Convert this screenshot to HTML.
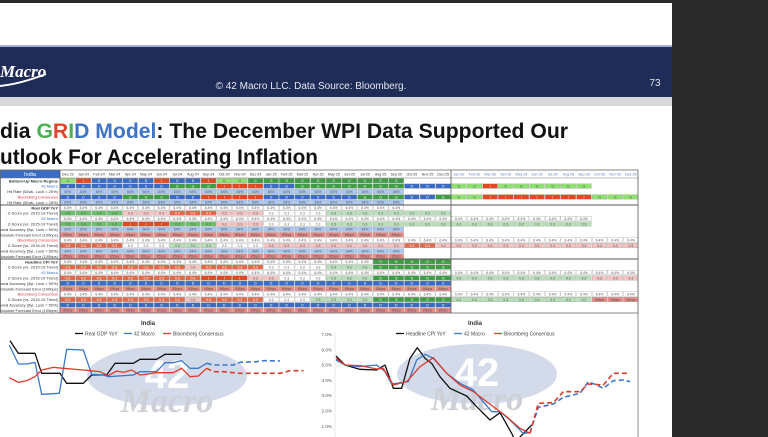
<!DOCTYPE html>
<html><head><meta charset="utf-8"><style>
html,body{margin:0;padding:0;background:#2b2b2b;width:768px;height:437px;overflow:hidden}
svg{display:block}
</style></head><body>
<svg id="s" width="768" height="437" xmlns="http://www.w3.org/2000/svg" font-family="Liberation Sans, sans-serif">
<rect x="0" y="0" width="768" height="437" fill="#2a2a2a"/>
<rect x="0" y="3" width="672" height="43" fill="#ffffff"/>
<rect x="0" y="45" width="672" height="2" fill="#9fb4d8"/>
<rect x="0" y="47" width="672" height="50" fill="#1f2c58"/>
<rect x="0" y="97" width="672" height="9" fill="#d8d8d8"/>
<rect x="0" y="106" width="672" height="331" fill="#ffffff"/>
<text x="0" y="77" fill="#fff" font-size="17" font-style="italic" font-family="Liberation Serif, serif" font-weight="bold">Macro</text>
<path d="M0 86 Q20 84 46 74" stroke="#fff" stroke-width="2" fill="none"/>
<text x="311" y="89" fill="#e6e6ee" font-size="10" text-anchor="middle">© 42 Macro LLC. Data Source: Bloomberg.</text>
<text x="655" y="86" fill="#e6e6ee" font-size="10" text-anchor="middle">73</text>
<text x="0" y="138" font-size="21" font-weight="bold" fill="#111" textLength="568" lengthAdjust="spacingAndGlyphs">dia <tspan fill="#4caf50">G</tspan><tspan fill="#e0452a">R</tspan><tspan fill="#4caf50">I</tspan><tspan fill="#3f73c4">D Model</tspan>: The December WPI Data Supported Our</text>
<text x="0" y="164" font-size="21" font-weight="bold" fill="#111" textLength="318" lengthAdjust="spacingAndGlyphs">utlook For Accelerating Inflation</text>
<g id="charts"></g>
<g id="tbl"></g>
</svg>
<script>
var NS="http://www.w3.org/2000/svg";
function el(p,n,a,t){var e=document.createElementNS(NS,n);for(var k in a)e.setAttribute(k,a[k]);if(t!=null)e.textContent=t;p.appendChild(e);return e;}
var T=document.getElementById('tbl');
var X0=60,CW=15.64,Y0=170,HH=8,RH=5.4;
function ry(r){return r==0?Y0:Y0+HH+(r-1)*RH;}
var YB=Y0+HH+25*RH;
var C={B:'#3a6cc4',G:'#3f9d45',L:'#8fe070',R:'#e04a22',lb:'#a9c9f2',w:'#ffffff',pr:'#e98a86',p:'#f4c4c0',s:'#e06a4a',g:'#b9dfb9',gg:'#6cbf6c','':'#ffffff'};
function rep(c,n){var a=[];for(var i=0;i<n;i++)a.push(c);return a;}
function seq(){var a=[];for(var i=0;i<arguments.length;i+=2)a=a.concat(rep(arguments[i],arguments[i+1]));return a;}
var months=[];var mn=['Jan','Feb','Mar','Apr','May','Jun','Jul','Aug','Sep','Oct','Nov','Dec'];
months.push('Dec-23');for(var y=24;y<=26;y++)for(var m=0;m<12;m++){months.push(mn[m]+'-'+y);}
months=months.slice(0,37);
var labels=['India','Bottom-Up Macro Regime','42 Macro','Hit Rate (52wk, Luck = 25%)','Bloomberg Consensus','Hit Rate (52wk, Luck = 25%)','Real GDP YoY','Z-Score (vs. 2015-19 Trend)','42 Macro','Z-Score (vs. 2015-19 Trend)','Directional Accuracy (5yr, Luck = 50%)','Mean Absolute Forecast Error (100bps)','Bloomberg Consensus','Z-Score (vs. 2015-19 Trend)','Directional Accuracy (5yr, Luck = 50%)','Mean Absolute Forecast Error (100bps)','Headline CPI YoY','Z-Score (vs. 2015-19 Trend)','42 Macro','Z-Score (vs. 2015-19 Trend)','Directional Accuracy (5yr, Luck = 50%)','Mean Absolute Forecast Error (100bps)','Bloomberg Consensus','Z-Score (vs. 2015-19 Trend)','Directional Accuracy (5yr, Luck = 50%)','Mean Absolute Forecast Error (100bps)'];
var rows=[
 null,
 seq('L',1,'R',1,'B',4,'R',1,'B',2,'R',1,'L',2,'G',10,'',3),
 seq('B',7,'G',3,'R',3,'B',2,'G',7,'B',3,'L',2,'R',1,'L',6,'',3),
 seq('lb',22),
 seq('B',4,'G',3,'B',2,'R',4,'B',6,'G',3,'B',2,'G',1,'L',2,'R',7,'L',3),
 seq('lb',22),
 seq('w',22),
 seq('gg',4,'p',3,'s',3,'p',3,'w',4,'g',8),
 seq('w',25,'w',9),
 seq('gg',4,'R',3,'gg',3,'p',3,'w',4,'g',8,'g',9),
 seq('lb',22),
 seq('pr',22),
 seq('w',25,'w',12),
 seq('s',4,'w',3,'g',3,'w',3,'p',9,'s',2,'p',1,'p',12),
 seq('lb',22),
 seq('pr',22),
 seq('w',20,'G',5),
 seq('s',8,'p',1,'s',4,'w',4,'g',3,'G',5),
 seq('w',25,'w',12),
 seq('s',9,'R',3,'p',2,'w',3,'g',3,'G',5,'g',9,'p',3),
 seq('B',25),
 seq('pr',25),
 seq('w',25,'w',12),
 seq('s',8,'p',1,'s',4,'w',3,'g',4,'G',5,'g',9,'pr',3),
 seq('B',25),
 seq('pr',25)
];
var txt={B:'D',G:'G',L:'G',R:'I'};
for(var r=0;r<26;r++){
 var y=ry(r);
 if(r==0){el(T,'rect',{x:0,y:y,width:X0,height:HH,fill:'#3a6cc4'});el(T,'text',{x:30,y:y+5.8,'font-size':5.5,fill:'#fff','text-anchor':'middle'},'India');}
 else{var col=(labels[r].indexOf('42 Macro')==0)?'#3a6cc4':(labels[r].indexOf('Bloomberg')==0?'#e03030':'#333');
  var b=(r==1||r==6||r==16)?'bold':'normal';
  el(T,'text',{x:58,y:y+4.3,'font-size':4,fill:col,'text-anchor':'end','font-weight':b},labels[r]);}
}
for(var c=0;c<37;c++){
 var x=X0+c*CW;
 el(T,'text',{x:x+CW/2,y:Y0+5.5,'font-size':3.6,fill:c<25?'#333':'#5a7fc8','text-anchor':'middle'},months[c]);
}
for(var r=1;r<26;r++){
 var a=rows[r];var y=ry(r);
 for(var c=0;c<a.length&&c<37;c++){
  var k=a[c];if(!k)continue;var x=X0+c*CW;
  el(T,'rect',{x:x+0.4,y:y+0.4,width:CW-0.8,height:RH-0.8,fill:C[k],stroke:'#999','stroke-width':0.3});
  var t=txt[k]||'';
  var fc=(k=='B'||k=='G'||k=='R'||k=='s')?'#fff':'#555';
  if(!t){t=(k=='lb'||(k=='B'&&r>19))?'64%':(k=='pr'?'85bps':(r==6||r==8||r==12||r==16||r==18||r==22?'6.4%':'0.3'));}
  el(T,'text',{x:x+CW/2,y:y+4.1,'font-size':3.4,fill:fc,'text-anchor':'middle'},t);
 }
}
el(T,'rect',{x:0.5,y:Y0,width:637.5,height:YB-Y0,fill:'none',stroke:'#666','stroke-width':0.8});
el(T,'line',{x1:0,x2:638,y1:Y0+HH,y2:Y0+HH,stroke:'#777','stroke-width':0.5});
[6,16].forEach(function(r){el(T,'line',{x1:0,x2:638,y1:ry(r),y2:ry(r),stroke:'#555','stroke-width':1});});
el(T,'line',{x1:X0,x2:X0,y1:Y0,y2:YB,stroke:'#555','stroke-width':0.8});
el(T,'line',{x1:451,x2:451,y1:Y0,y2:YB,stroke:'#555','stroke-width':0.8});
el(T,'line',{x1:638,x2:638,y1:Y0,y2:437,stroke:'#777','stroke-width':0.8});

var G=document.getElementById('charts');
function wm(cx,cy){
 el(G,'ellipse',{cx:cx,cy:cy-8,rx:80,ry:30,fill:'#d3dbea'});
 el(G,'text',{x:cx,y:cy+4,'font-size':40,'font-weight':'bold',fill:'#fff','text-anchor':'middle'},'42');
 el(G,'text',{x:cx,y:cy+28,'font-size':34,'font-style':'italic','font-family':'Liberation Serif, serif','font-weight':'bold',fill:'#cdd0d6','text-anchor':'middle'},'Macro');
}
wm(167,384);wm(477,382);
function pl(pts,col,dash,sc,ox,oy){var s='';for(var i=0;i<pts.length;i+=2)s+=(pts[i]/3+ox)+','+(pts[i+1]/3+oy)+' ';
 var a={points:s,fill:'none',stroke:col,'stroke-width':dash?1.6:1.3,'stroke-linejoin':'round'};if(dash)a['stroke-dasharray']='5,3';el(G,'polyline',a);}
el(G,'text',{x:148,y:325,'font-size':6,'font-weight':'bold',fill:'#333','text-anchor':'middle'},'India');
var lg=[[75,'#111','Real GDP YoY'],[124,'#3a78c8','42 Macro'],[163,'#e03a2a','Bloomberg Consensus']];
lg.forEach(function(l){el(G,'line',{x1:l[0],x2:l[0]+8,y1:333.5,y2:333.5,stroke:l[1],'stroke-width':1.3});el(G,'text',{x:l[0]+10,y:335.5,'font-size':5,fill:'#444'},l[2]);});
pl([30,92,55,130,105,130,125,190,180,190,200,220,250,220,275,195,320,195,345,160,400,160,420,148,470,148,495,133,545,133],'#111',0,0,0,310);
pl([28,105,55,162,80,162,105,157,125,253,178,250,200,118,250,120,275,193,310,195,325,200,400,195,420,185,470,185,495,158,520,158,545,152,570,175,595,175,620,160],'#3a78c8',0,0,0,310);
pl([620,160,640,165,700,165,720,157,770,155,790,152,840,153],'#3a78c8',1,0,0,310);
pl([28,203,55,217,80,212,105,200,125,180,160,172,190,175,250,180,300,185,325,197,350,183,370,187,395,180,420,195,445,192,470,188,520,188,545,175,570,200,595,198,620,175],'#e03a2a',0,0,0,310);
pl([620,175,640,185,670,185,700,188,720,190,840,190,870,182,910,182],'#e03a2a',1,0,0,310);
['7.0%','6.0%','5.0%','4.0%','3.0%','2.0%','1.0%'].forEach(function(t,i){el(G,'text',{x:332,y:336+i*15.3,'font-size':4.6,fill:'#555','text-anchor':'end'},t);});
el(G,'line',{x1:335,x2:335,y1:332,y2:437,stroke:'#ddd','stroke-width':0.6});
el(G,'text',{x:475,y:325,'font-size':6,'font-weight':'bold',fill:'#333','text-anchor':'middle'},'India');
var lg2=[[396,'#111','Headline CPI YoY'],[454,'#3a78c8','42 Macro'],[494,'#e03a2a','Bloomberg Consensus']];
lg2.forEach(function(l){el(G,'line',{x1:l[0],x2:l[0]+8,y1:333.5,y2:333.5,stroke:l[1],'stroke-width':1.3});el(G,'text',{x:l[0]+10,y:335.5,'font-size':5,fill:'#444'},l[2]);});
pl([48,138,75,165,120,178,170,180,195,165,220,235,245,235,270,145,292,113,315,145,335,160,360,200,390,235,440,258,470,290,510,330,540,308,575,370,585,390],'#111',0,0,320,310);
pl([595,390,600,381,635,345],'#111',0,0,320,310);
pl([48,150,75,165,115,170,170,165,195,185,215,222,265,215,290,150,315,133,340,145,380,190,420,220,460,240,515,305,540,305,570,330,610,370,630,368],'#3a78c8',0,0,320,310);
pl([630,368,655,292,700,282,730,262,780,250,805,215,830,225,850,235,880,212,910,210,930,215],'#3a78c8',1,0,320,310);
pl([48,145,75,165,120,167,170,177,190,175,220,225,260,215,300,170,340,143,380,190,420,225,460,245,520,290,560,320,600,355,630,370],'#e03a2a',0,0,320,310);
pl([630,370,655,280,700,278,730,245,780,245,805,222,850,225,880,190,930,190],'#e03a2a',1,0,320,310);
</script>
</body></html>
